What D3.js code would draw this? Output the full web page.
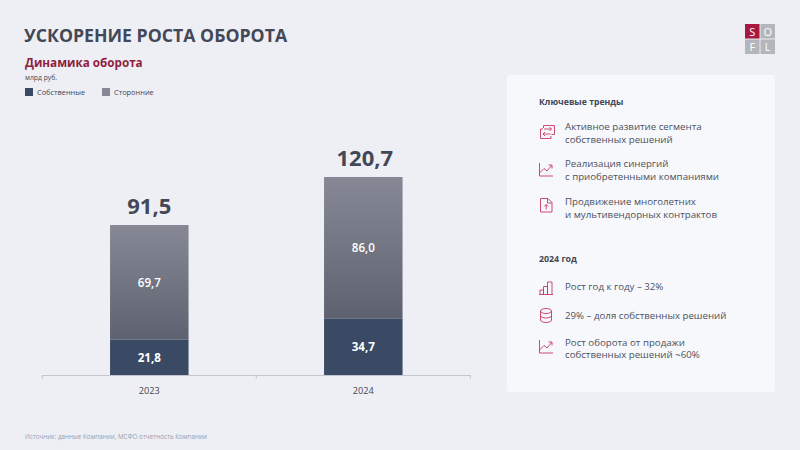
<!DOCTYPE html>
<html><head><meta charset="utf-8">
<script src="https://cdn.jsdelivr.net/npm/d3@7"></script>
<style>html,body{margin:0;padding:0;background:#eeeff5}svg{display:block}text{font-family:"Open Sans",sans-serif}</style>
</head><body><svg id="c" width="800" height="450"></svg>
<script>
const title = "УСКОРЕНИЕ РОСТА ОБОРОТА";
const subtitle = "Динамика оборота";
const unit = "млрд руб.";
const source = "Источник: данные Компании, МСФО отчетность Компании";
const years = ["2023", "2024"];
const own = [21.8, 34.7];
const thirdParty = [69.7, 86.0];
const totals = [91.5, 120.7];
const seriesNames = ["Собственные", "Сторонние"];
const trendsTitle = "Ключевые тренды";
const trends = [
  ["exchange", ["Активное развитие сегмента", "собственных решений"]],
  ["trend", ["Реализация синергий", "с приобретенными компаниями"]],
  ["doc", ["Продвижение многолетних", "и мультивендорных контрактов"]]
];
const yearTitle = "2024 год";
const yearItems = [
  ["bars", ["Рост год к году – 32%"]],
  ["db", ["29% – доля собственных решений"]],
  ["trend", ["Рост оборота от продажи", "собственных решений ~60%"]]
];
const logoLetters = ["S", "O", "F", "L"];

const svg = d3.select("#c");
const fmt = v => v.toFixed(1).replace(".", ",");
const dark = "#434756", red = "#8f1f3f", pink = "#c8385f", navy = "#3b4a64";
const defs = svg.append("defs");

svg.append("text").attr("x", 24).attr("y", 42).attr("font-size", 17.7).attr("font-weight", 700).attr("fill", dark).text(title);
svg.append("text").attr("x", 25).attr("y", 67).attr("font-size", 11.7).attr("font-weight", 700).attr("fill", red).text(subtitle);
svg.append("text").attr("x", 25).attr("y", 80).attr("font-size", 6.8).attr("fill", dark).text(unit);

// legend
[[25, navy], [102, "#868895"]].forEach(([x, c], i) => {
  svg.append("rect").attr("x", x).attr("y", 88).attr("width", 8).attr("height", 8).attr("fill", c);
  svg.append("text").attr("x", x + 12).attr("y", 95).attr("font-size", 7.4).attr("fill", dark).text(seriesNames[i]);
});

// chart
const x = d3.scalePoint().domain(years).range([149.3, 363.3]);
const y = d3.scaleLinear().domain([0, 120.7]).range([375.5, 177]);
const barW = 78.5;
years.forEach((yr, i) => {
  const cx = x(yr);
  const top = y(totals[i]), mid = y(own[i]), base = y(0);
  const gid = "g" + i;
  const lg = defs.append("linearGradient").attr("id", gid).attr("gradientUnits", "userSpaceOnUse")
    .attr("x1", 0).attr("x2", 0).attr("y1", top).attr("y2", mid);
  lg.append("stop").attr("offset", 0).attr("stop-color", "#868995");
  lg.append("stop").attr("offset", 1).attr("stop-color", "#5e6270");
  svg.append("rect").attr("x", cx - barW / 2).attr("y", top).attr("width", barW).attr("height", mid - top).attr("fill", `url(#${gid})`);
  svg.append("rect").attr("x", cx - barW / 2).attr("y", mid).attr("width", barW).attr("height", base - mid).attr("fill", navy);
  svg.append("text").attr("x", cx).attr("y", (top + mid) / 2 + 4.5).attr("text-anchor", "middle").attr("font-size", 11.6).attr("font-weight", 600).attr("fill", "#fff").text(fmt(thirdParty[i]));
  svg.append("text").attr("x", cx).attr("y", (mid + base) / 2 + 4.5).attr("text-anchor", "middle").attr("font-size", 11.6).attr("font-weight", 700).attr("fill", "#fff").text(fmt(own[i]));
  svg.append("text").attr("x", cx + (i ? 1.5 : 0)).attr("y", top - 11).attr("text-anchor", "middle").attr("font-size", 22).attr("font-weight", 700).attr("fill", dark).text(fmt(totals[i]));
  svg.append("text").attr("x", cx).attr("y", 394).attr("text-anchor", "middle").attr("font-size", 9.2).attr("fill", dark).text(yr);
});
const axisColor = "#c4c6ce";
const ax = svg.append("g");
ax.append("line").attr("x1", 42).attr("x2", 471).attr("y1", 375.5).attr("y2", 375.5).attr("stroke", axisColor);
const step = x(years[1]) - x(years[0]);
[x(years[0]) - step / 2, x(years[0]) + step / 2, x(years[1]) + step / 2].forEach(t =>
  ax.append("line").attr("x1", t).attr("x2", t).attr("y1", 375.5).attr("y2", 379).attr("stroke", axisColor));

svg.append("text").attr("x", 25).attr("y", 439).attr("font-size", 6.3).attr("fill", "#9a9caa").text(source);

// panel
svg.append("rect").attr("x", 507).attr("y", 75).attr("width", 268).attr("height", 317).attr("rx", 3).attr("fill", "#f7f8fb");
svg.append("text").attr("x", 539).attr("y", 105).attr("font-size", 8.7).attr("font-weight", 700).attr("fill", dark).text(trendsTitle);
svg.append("text").attr("x", 539).attr("y", 262).attr("font-size", 8.8).attr("font-weight", 700).attr("fill", dark).text(yearTitle);

const icons = {
  exchange: g => g.append("path").attr("d", "M4.500 3.500V1H15.500V10H12.500M1.500 4.500V14H12V11.500M1.500 4.500H4M5 4.500H12.500M10.500 2.500l2 2l-2 2M11.500 9.500H4M6 7.500l-2 2l2 2"),
  trend: g => g.append("path").attr("d", "M0.500 1V14H14M0.500 11L5 6.500L8 9L12.500 3.500M9.500 3H13V6.500"),
  doc: g => g.append("path").attr("d", "M1.500 1H9L13 5V14.500H1.500ZM8.500 1V5.500H13M7.200 12V7M5.200 9L7.200 7L9.200 9"),
  bars: g => g.append("path").attr("d", "M0 14.500H14M1 14.500V10H4.500V14.500M4.500 14.500V6.500H8.500V14.500M8.500 14.500V2H13V14.500"),
  db: g => {
    g.append("ellipse").attr("cx", 7).attr("cy", 3).attr("rx", 5.500).attr("ry", 2.500);
    g.append("path").attr("d", "M1.500 3V12C1.500 13.400 4 14.500 7 14.500S12.500 13.400 12.500 12V3M1.500 7.500C1.500 8.900 4 10 7 10S12.500 8.900 12.500 7.500");
  }
};
function items(list, rows, tops) {
  list.forEach(([ic, lines], i) => {
    const g = svg.append("g").attr("transform", `translate(539,${tops[i]})`)
      .attr("fill", "none").attr("stroke", pink).attr("stroke-width", 0.9);
    icons[ic](g);
    lines.forEach((l, j) => svg.append("text").attr("x", 565).attr("y", rows[i] + 3 + j * 12.8).attr("font-size", 9.7).attr("fill", "#4d5060").text(l));
  });
}
items(trends, [126.7, 164, 202], [124.5, 162, 197.5]);
items(yearItems, [287, 315.5, 342.5], [280, 308, 339]);

// logo
const lx = d3.scaleBand().domain([0, 1]).range([745, 775]).paddingInner(0.06);
const ly = d3.scaleBand().domain([0, 1]).range([24, 54]).paddingInner(0.06);
logoLetters.forEach((l, i) => {
  const c = i % 2, r = Math.floor(i / 2);
  svg.append("rect").attr("x", lx(c)).attr("y", ly(r)).attr("width", lx.bandwidth()).attr("height", ly.bandwidth()).attr("fill", i === 0 ? "#a8173f" : "#b5b6bb");
  svg.append("text").attr("x", lx(c) + lx.bandwidth() / 2).attr("y", ly(r) + 11.5).attr("text-anchor", "middle").attr("font-size", 11).attr("fill", "#fff").text(l);
});
</script></body></html>
